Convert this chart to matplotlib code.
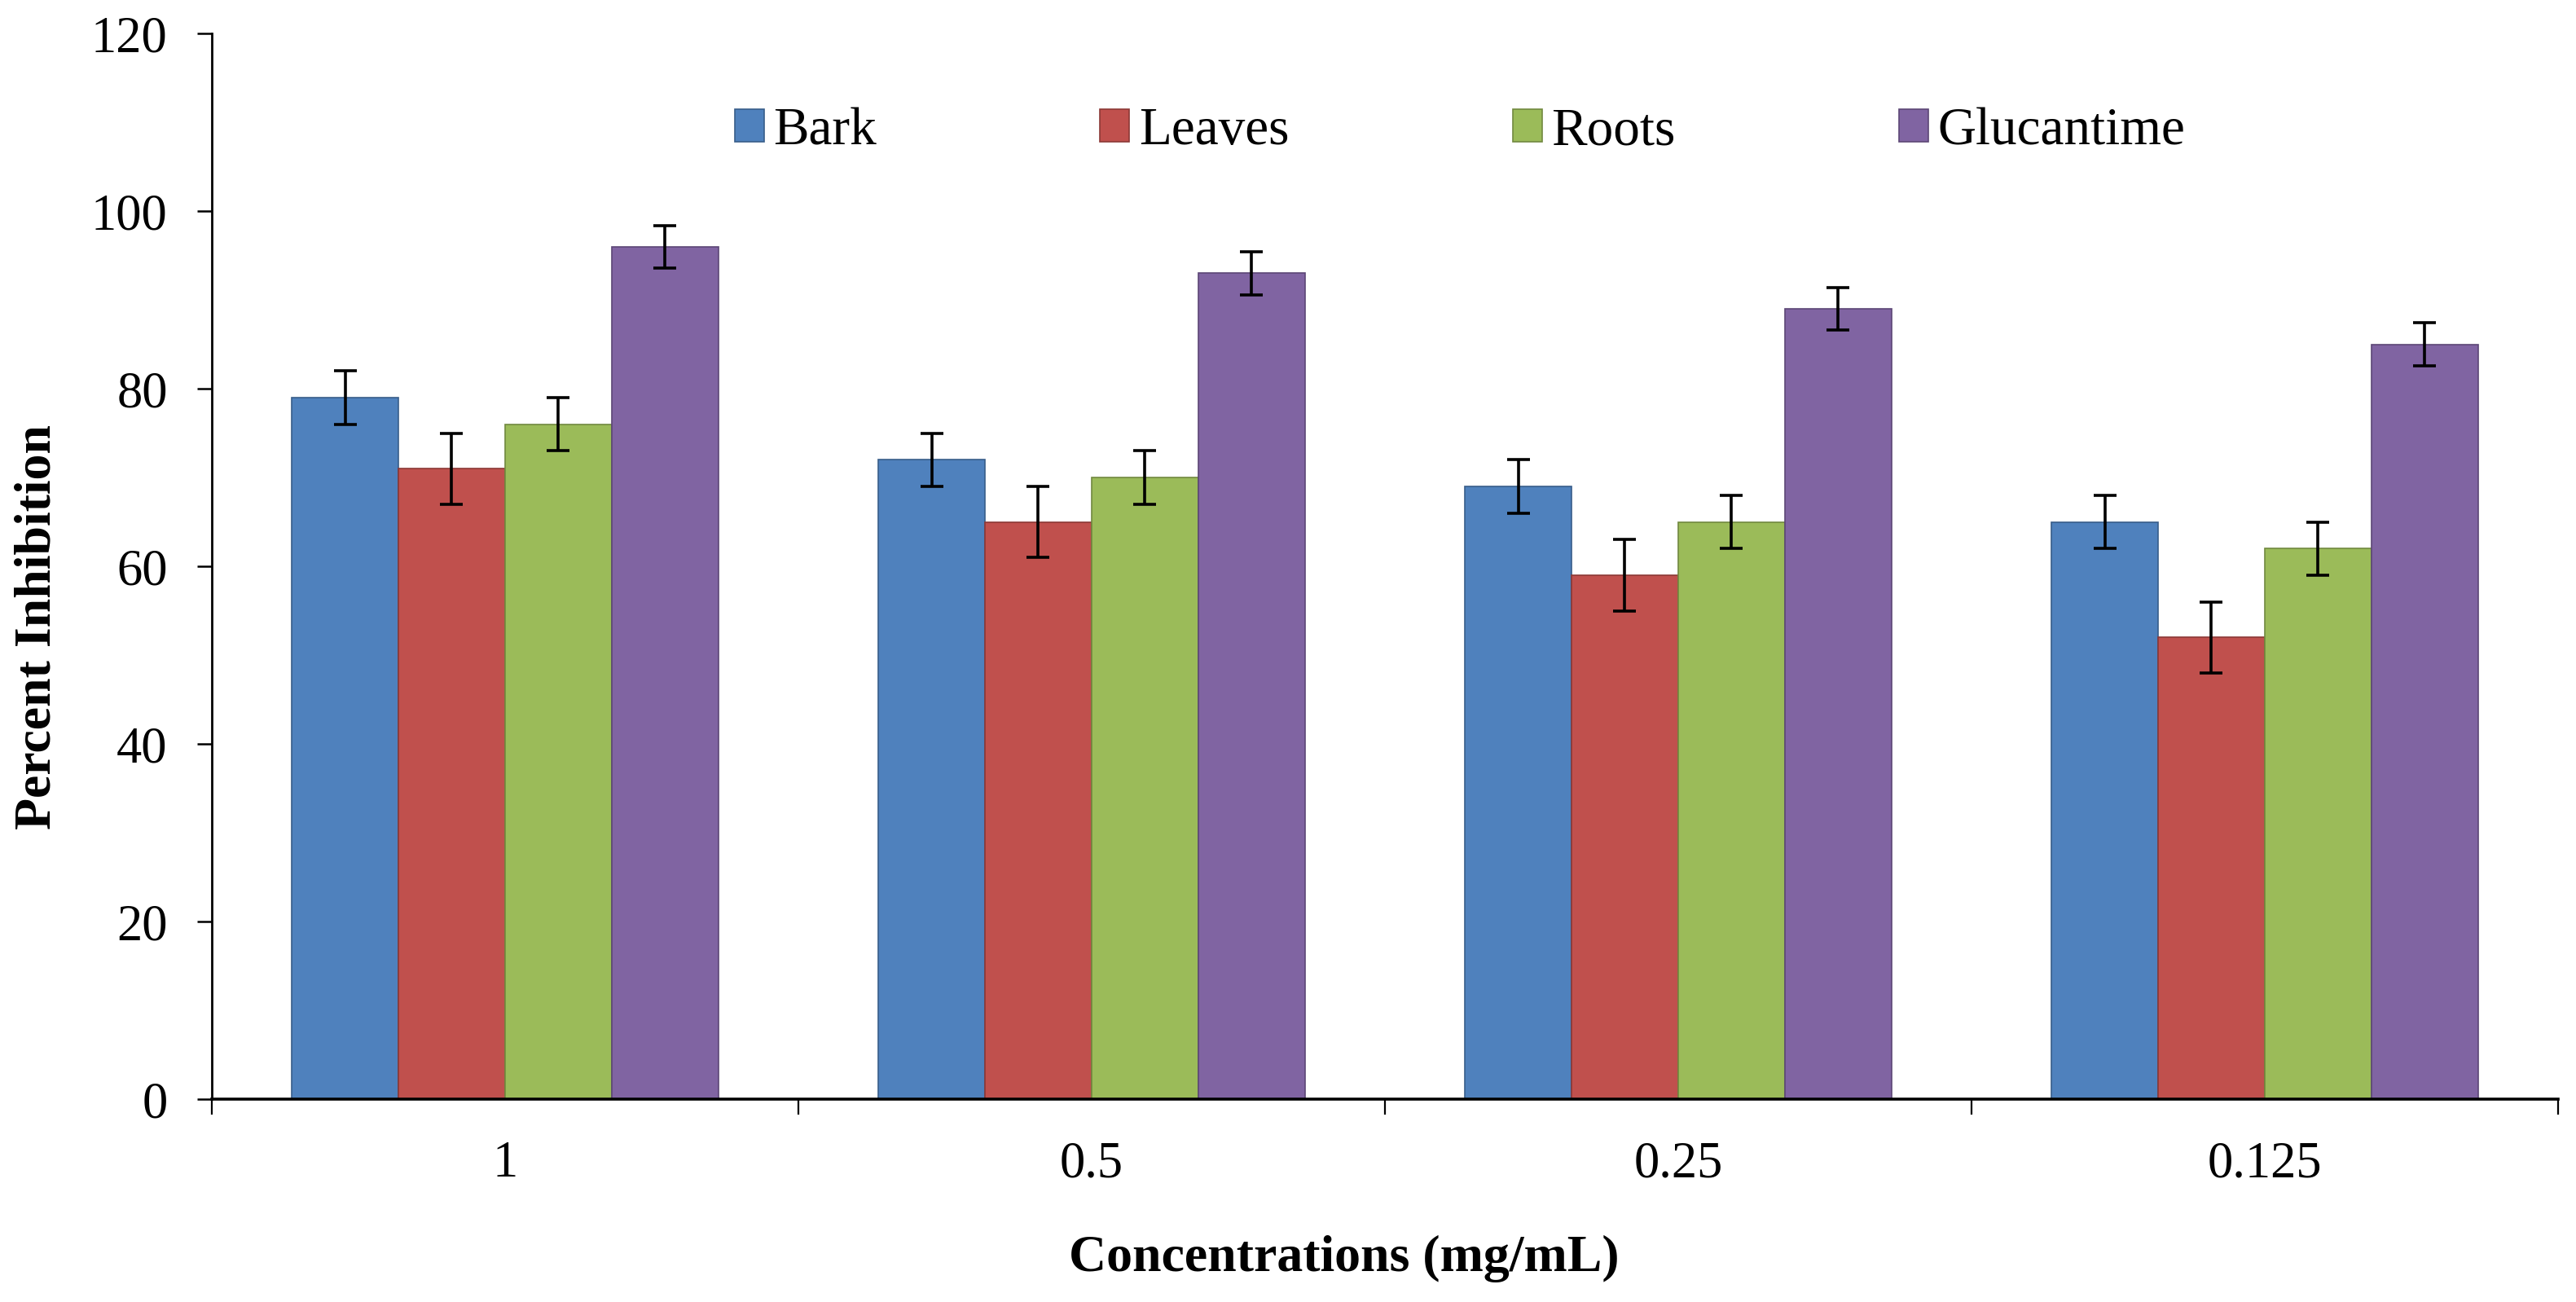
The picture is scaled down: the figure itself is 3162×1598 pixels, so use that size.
import numpy as np
import matplotlib
matplotlib.use("Agg")
import matplotlib.pyplot as plt

# values
concentrations = ["1", "0.5", "0.25", "0.125"]
series_names = ["Bark", "Leaves", "Roots", "Glucantime"]
bark = [79, 72, 69, 65]
leaves = [71, 65, 59, 52]
roots = [76, 70, 65, 62]
glucantime = [96, 93, 89, 85]
bark_err = [3, 3, 3, 3]
leaves_err = [4, 4, 4, 4]
roots_err = [3, 3, 3, 3]
glucantime_err = [2.4, 2.4, 2.4, 2.4]
y_ticks = [0, 20, 40, 60, 80, 100, 120]

fill_colors = ["#4F81BD", "#C0504D", "#9BBB59", "#8064A2"]
edge_colors = ["#385D8A", "#8C3836", "#71893F", "#5C4776"]


def plot_bars(ax):
    """Clustered bars with error bars, Excel-style gap width of 150%."""
    x = np.arange(len(concentrations))
    width = 1 / 5.5
    data = [bark, leaves, roots, glucantime]
    errs = [bark_err, leaves_err, roots_err, glucantime_err]
    for i, (vals, err) in enumerate(zip(data, errs)):
        offset = (i - 1.5) * width
        ax.bar(x + offset, vals, width, color=fill_colors[i],
               edgecolor=edge_colors[i], linewidth=1.2,
               label=series_names[i], zorder=2)
        ax.errorbar(x + offset, vals, yerr=err, fmt="none", ecolor="black",
                    elinewidth=2.6, capsize=10, capthick=2.6, zorder=3)
    return x


def style_axes(ax, x):
    ax.set_xlim(-0.5, len(concentrations) - 0.5)
    ax.set_ylim(0, 120)
    ax.set_yticks(y_ticks)
    ax.set_yticklabels([str(t) for t in y_ticks])

    # tick marks at the category boundaries, labels at the centres
    ax.set_xticks(np.arange(-0.5, len(concentrations), 1.0))
    ax.set_xticklabels([])
    ax.set_xticks(x, minor=True)
    ax.set_xticklabels(concentrations, minor=True)
    ax.tick_params(axis="x", which="major", direction="out", length=14, width=1.6)
    ax.tick_params(axis="x", which="minor", length=0, pad=37, labelsize=45)
    ax.tick_params(axis="y", direction="out", length=13, width=1.8, pad=26, labelsize=45)

    for side in ["top", "right"]:
        ax.spines[side].set_visible(False)
    ax.spines["left"].set_linewidth(2.0)
    ax.spines["bottom"].set_linewidth(2.6)

    ax.set_ylabel("Percent Inhibition", fontsize=46, fontweight="bold")
    ax.yaxis.label.set_va("baseline")
    ax.yaxis.set_label_coords(-0.0688, 0.4427)
    ax.set_xlabel("Concentrations (mg/mL)", fontsize=46, fontweight="bold")
    ax.xaxis.label.set_va("baseline")
    ax.xaxis.set_label_coords(0.4826, -0.1613)

    ax.legend(loc="center", bbox_to_anchor=(0.532, 0.908), ncol=4,
              frameon=False, fontsize=47, handlelength=0.55, handleheight=0.55,
              handletextpad=0.18, columnspacing=4.2, borderaxespad=0)


def main():
    plt.rcParams["font.family"] = ["Liberation Serif", "DejaVu Serif"]
    fig = plt.figure(figsize=(31.62, 15.98), dpi=100)
    ax = fig.add_axes([0.0822, 0.1558, 0.9108, 0.8185])
    x = plot_bars(ax)
    style_axes(ax, x)
    fig.savefig("out.png", dpi=100, facecolor="white")


if __name__ == "__main__":
    main()
